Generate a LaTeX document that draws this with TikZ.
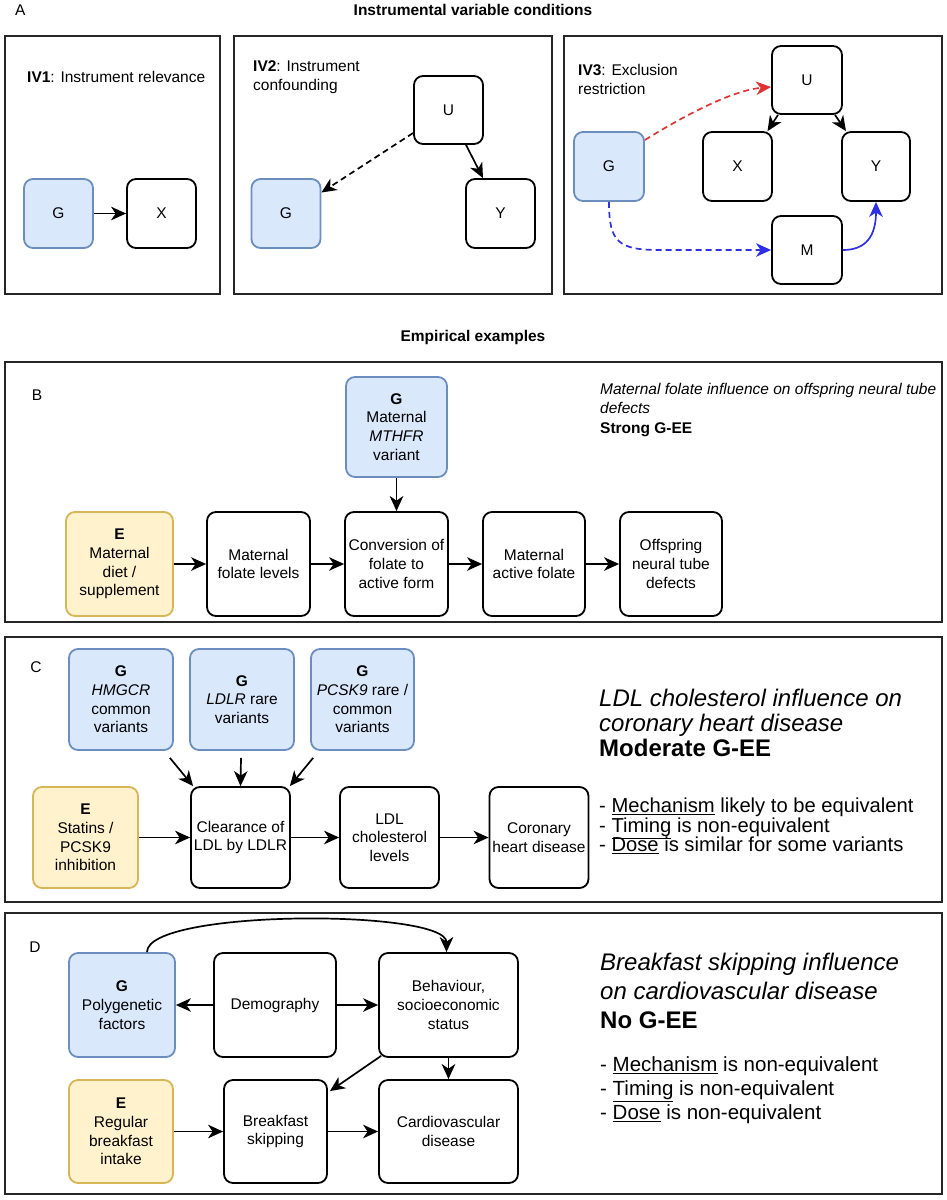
\documentclass[tikz,border=0pt]{standalone}
\usepackage{fontspec}
\setmainfont{Liberation Sans}
\usetikzlibrary{arrows.meta,calc}
\definecolor{gfill}{HTML}{DAE8FC}
\definecolor{gdraw}{HTML}{6C8EBF}
\definecolor{efill}{HTML}{FFF2CC}
\definecolor{edraw}{HTML}{D6B656}
\definecolor{redarr}{HTML}{DD3333}
\definecolor{bluearr}{HTML}{2F2FE6}
\newcommand\nf{\fontsize{15.5}{18.7}\selectfont\lineskiplimit=-50pt}
\newcommand\nfb{\fontsize{15.5}{19.5}\selectfont\lineskiplimit=-50pt}
\newcommand\ctit{\fontsize{24}{25}\selectfont\lineskiplimit=-50pt}
\newcommand\dtit{\fontsize{24}{29}\selectfont\lineskiplimit=-50pt}
\newcommand\cbul{\fontsize{20.2}{19.5}\selectfont\lineskiplimit=-50pt}
\newcommand\dbul{\fontsize{20.5}{24}\selectfont\lineskiplimit=-50pt}
\begin{document}
\begin{tikzpicture}[x=1pt,y=-1pt,
  panel/.style={draw=black!85, line width=2pt},
  box/.style={draw=black, line width=1.8pt, rounded corners=9pt, fill=white, align=center, inner sep=1pt, font=\nf},
  gbox/.style={box, fill=gfill, draw=gdraw},
  ebox/.style={box, fill=efill, draw=edraw},
  arr/.style={line width=1.7pt, -{Stealth[length=15pt,width=13.5pt,inset=4.5pt]}},
  dsh/.style={dash pattern=on 6pt off 4pt},
  lbl/.style={font=\nf, inner sep=0pt},
  ttl/.style={font=\nf\bfseries, inner sep=0pt}]
\useasboundingbox (0,0) rectangle (946,1200);

% ---------------- Panel A
\node[lbl, anchor=west] (labA) at (15,10) {A};
\node[ttl] (titA) at (473,10) {Instrumental variable conditions};
\draw[panel] (5,36) rectangle (220,294);
\draw[panel] (234,36) rectangle (552,294);
\draw[panel] (564,36) rectangle (942,294);

% IV1
\node[lbl, anchor=west] (iv1) at (27,77) {\textbf{IV1}: Instrument relevance};
\node[gbox, minimum width=69pt, minimum height=69pt] (aG) at (58.5,213.5) {G};
\node[box, minimum width=69pt, minimum height=69pt] (aX) at (161.5,213.5) {X};
\draw[arr] (aG) -- (aX);

% IV2
\node[lbl, anchor=west, align=left] (iv2) at (253,77.5) {\textbf{IV2}: Instrument\\confounding};
\node[box, minimum width=69pt, minimum height=68pt] (bU) at (448.5,110) {U};
\node[gbox, minimum width=69pt, minimum height=69pt] (bG) at (286,213.5) {G};
\node[box, minimum width=69pt, minimum height=69pt] (bY) at (500.5,213.5) {Y};
\draw[arr, dsh] ([yshift=-23pt]bU.west) -- ([yshift=21pt]bG.east);
\draw[arr] ([xshift=17.5pt]bU.south) -- ([xshift=-17.5pt]bY.north);

% IV3
\node[lbl, anchor=west, align=left] (iv3) at (578,79.5) {\textbf{IV3}: Exclusion\\restriction};
\node[gbox, minimum width=70pt, minimum height=69pt] (cG) at (609,166.5) {G};
\node[box, minimum width=70pt, minimum height=68pt] (cU) at (807,80) {U};
\node[box, minimum width=69pt, minimum height=69pt] (cX) at (737.5,166.5) {X};
\node[box, minimum width=68pt, minimum height=69pt] (cY) at (876,166.5) {Y};
\node[box, minimum width=70pt, minimum height=68pt] (cM) at (807,250) {M};
\draw[arr, dsh, draw=redarr] ([yshift=26.5pt]cG.east) .. controls (690,112) and (735,90) .. ([yshift=-7pt]cU.west);
\draw[arr, dsh, draw=bluearr] (cG.south) .. controls (609,242) and (618,250) .. (660,250) -- (cM.west);
\draw[arr, draw=bluearr] (cM.east) .. controls (866,250) and (876,236) .. (cY.south);
\draw[arr] ([xshift=-29pt]cU.south) -- ([xshift=30pt]cX.north);
\draw[arr] ([xshift=28pt]cU.south) -- ([xshift=-30pt]cY.north);

% ---------------- Empirical examples
\node[ttl] (titE) at (473,337) {Empirical examples};

% ---------------- Panel B
\draw[panel] (5,362) rectangle (942,622);
\node[lbl] (labB) at (37,395) {B};
\node[gbox, minimum width=101pt, minimum height=100pt] (BG) at (396.5,427) {\textbf{G}\\Maternal\\\textit{MTHFR}\\variant};
\node[ebox, minimum width=107pt, minimum height=104pt] (BE) at (119.5,564) {\textbf{E}\\Maternal\\diet /\\supplement};
\node[box, minimum width=103pt, minimum height=104pt] (BMF) at (258.5,564) {Maternal\\folate levels};
\node[box, minimum width=103pt, minimum height=104pt] (BC) at (396.5,564) {Conversion of\\folate to\\active form};
\node[box, minimum width=102pt, minimum height=104pt] (BMA) at (534,564) {Maternal\\active folate};
\node[box, minimum width=102pt, minimum height=104pt] (BO) at (671,564) {Offspring\\neural tube\\defects};
\draw[arr] (BG) -- (BC);
\draw[arr] (BE) -- (BMF);
\draw[arr] (BMF) -- (BC);
\draw[arr] (BC) -- (BMA);
\draw[arr] (BMA) -- (BO);
\node[lbl, anchor=west, align=left, font=\nfb] (txtB) at (600,410) {\textit{Maternal folate influence on offspring neural tube}\\\textit{defects}\\\textbf{Strong G-EE}};

% ---------------- Panel C
\draw[panel] (5,637) rectangle (942,902);
\node[lbl] (labC) at (36,667) {C};
\node[gbox, minimum width=104pt, minimum height=101pt] (CG1) at (121,699.5) {\textbf{G}\\\textit{HMGCR}\\common\\variants};
\node[gbox, minimum width=104pt, minimum height=101pt] (CG2) at (242,699.5) {\textbf{G}\\\textit{LDLR} rare\\variants};
\node[gbox, minimum width=103pt, minimum height=101pt] (CG3) at (362.5,699.5) {\textbf{G}\\\textit{PCSK9} rare /\\common\\variants};
\node[ebox, minimum width=105pt, minimum height=101pt] (CE) at (85.5,837.5) {\textbf{E}\\Statins /\\PCSK9\\inhibition};
\node[box, minimum width=99pt, minimum height=101pt] (CC) at (240.5,837.5) {Clearance of\\LDL by LDLR};
\node[box, minimum width=99pt, minimum height=101pt] (CL) at (389.5,837.5) {LDL\\cholesterol\\levels};
\node[box, minimum width=99pt, minimum height=101pt] (CH) at (539,837.5) {Coronary\\heart disease};
\draw[arr] ([xshift=-4pt,yshift=-7pt]CG1.south east) -- ([xshift=3pt]CC.north west);
\draw[arr] ([xshift=-1pt,yshift=-7pt]CG2.south) -- (CC.north);
\draw[arr] ([xshift=3pt,yshift=-7pt]CG3.south west) -- ([xshift=-1pt]CC.north east);
\draw[arr] (CE) -- (CC);
\draw[arr] (CC) -- (CL);
\draw[arr] (CL) -- (CH);
\node[lbl, anchor=west, align=left, font=\ctit] (titC) at (599,723) {\textit{LDL cholesterol influence on}\\\textit{coronary heart disease}\\\textbf{Moderate G-EE}};
\node[lbl, anchor=west, align=left, font=\cbul] (bulC) at (599,826) {- \underline{Mechanism} likely to be equivalent\\- \underline{Timing} is non-equivalent\\- \underline{Dose} is similar for some variants};

% ---------------- Panel D
\draw[panel] (5,913) rectangle (942,1194);
\node[lbl] (labD) at (35,947) {D};
\node[gbox, minimum width=106pt, minimum height=104pt] (DG) at (122,1005) {\textbf{G}\\Polygenetic\\factors};
\node[box, minimum width=122pt, minimum height=104pt] (DD) at (275,1005) {Demography};
\node[box, minimum width=139pt, minimum height=104pt] (DB) at (448.5,1005) {Behaviour,\\socioeconomic\\status};
\node[ebox, minimum width=104pt, minimum height=103pt] (DE) at (121,1131.5) {\textbf{E}\\Regular\\breakfast\\intake};
\node[box, minimum width=103pt, minimum height=103pt] (DS) at (275.5,1131.5) {Breakfast\\skipping};
\node[box, minimum width=139pt, minimum height=103pt] (DC) at (448.5,1131.5) {Cardiovascular\\disease};
\draw[arr] ([xshift=25pt]DG.north) .. controls (147,909) and (446.5,909) .. ([xshift=-2pt]DB.north);
\draw[arr] (DD) -- (DG);
\draw[arr] (DD) -- (DB);
\draw[arr] (DB) -- (DC);
\draw[arr] ([xshift=3pt,yshift=2pt]DB.south west) -- ([xshift=2pt,yshift=-12pt]DS.north east);
\draw[arr] (DE) -- (DS);
\draw[arr] (DS) -- (DC);
\node[lbl, anchor=west, align=left, font=\dtit] (titD) at (600,991) {\textit{Breakfast skipping influence}\\\textit{on cardiovascular disease}\\\textbf{No G-EE}};
\node[lbl, anchor=west, align=left, font=\dbul] (bulD) at (600,1090) {- \underline{Mechanism} is non-equivalent\\- \underline{Timing} is non-equivalent\\- \underline{Dose} is non-equivalent};
\end{tikzpicture}
\end{document}
